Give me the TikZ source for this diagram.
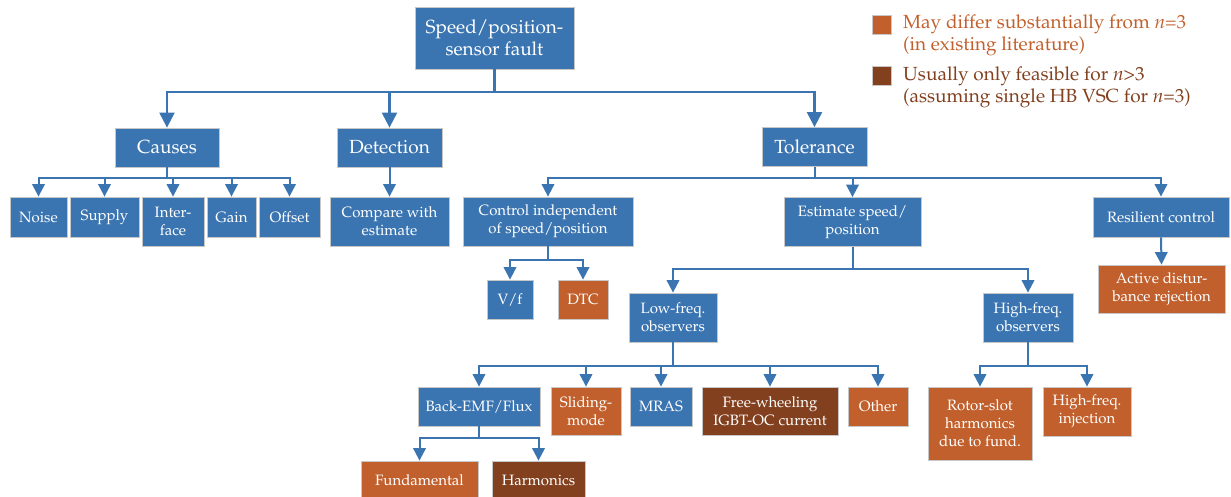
\documentclass[tikz,border=0pt]{standalone}
\usepackage[T1]{fontenc}
\usepackage{mathpazo}
\usetikzlibrary{arrows.meta}
\definecolor{cblue}{HTML}{3B75B1}
\definecolor{corange}{HTML}{C1602D}
\definecolor{cbrown}{HTML}{82401F}
\begin{document}
\begin{tikzpicture}[x=1pt,y=-1pt,
  box/.style={draw=black!22, line width=0.8pt, text=white, align=center, inner sep=0pt, font=\fontsize{15}{18}\selectfont},
  bigbox/.style={box, font=\fontsize{19}{22}\selectfont},
  blu/.style={fill=cblue}, ora/.style={fill=corange}, bro/.style={fill=cbrown},
  link/.style={draw=cblue, line width=2pt, -{Triangle[width=12.5pt,length=12.5pt]}},
  biglink/.style={draw=cblue, line width=2.2pt, -{Triangle[width=15pt,length=15pt]}},
  legtext/.style={anchor=north west, inner sep=0pt, align=left, font=\fontsize{19}{22}\selectfont},
  legbox/.style={draw=black!22, line width=0.8pt, minimum size=19pt, inner sep=0pt}]
\useasboundingbox (0,0) rectangle (1231,497);

% level 0
\node[bigbox,blu,minimum width=159pt,minimum height=62pt] (root) at (494.5,38) {Speed/position-\\sensor fault};
% level 1
\node[bigbox,blu,minimum width=104pt,minimum height=39pt] (causes) at (167,147.5) {Causes};
\node[bigbox,blu,minimum width=105pt,minimum height=39pt] (detect) at (389.5,147.5) {Detection};
\node[bigbox,blu,minimum width=105pt,minimum height=39pt] (toler) at (814.5,147) {Tolerance};
% level 2
\node[box,blu,minimum width=57pt,minimum height=40pt] (noise) at (38.5,217) {Noise};
\node[box,blu,minimum width=69pt,minimum height=40pt] (supply) at (104.5,217) {Supply};
\node[box,blu,minimum width=62pt,minimum height=49pt] (interf) at (173,221.5) {Inter-\\face};
\node[box,blu,minimum width=49pt,minimum height=40pt] (gain) at (231.5,217) {Gain};
\node[box,blu,minimum width=61pt,minimum height=40pt] (offset) at (289.5,217) {Offset};
\node[box,blu,minimum width=119pt,minimum height=49pt] (compare) at (389.5,221.5) {Compare with\\estimate};
\node[box,blu,minimum width=170pt,minimum height=49pt] (control) at (548,221.5) {Control independent\\of speed/position};
\node[box,blu,minimum width=137pt,minimum height=49pt] (estim) at (852.5,222) {Estimate speed/\\position};
\node[box,blu,minimum width=136pt,minimum height=40pt] (resil) at (1161,217) {Resilient control};
% level 3
\node[box,ora,minimum width=127pt,minimum height=48pt] (active) at (1161.5,289) {Active distur-\\bance rejection};
\node[box,blu,minimum width=46pt,minimum height=39pt] (vf) at (510,299.5) {V/f};
\node[box,ora,minimum width=50pt,minimum height=39pt] (dtc) at (583,299.5) {DTC};
\node[box,blu,minimum width=88pt,minimum height=49pt] (lowf) at (673,317.5) {Low-freq.\\observers};
\node[box,blu,minimum width=90pt,minimum height=49pt] (highf) at (1028,317.5) {High-freq.\\observers};
% level 4
\node[box,blu,minimum width=122pt,minimum height=39pt] (bemf) at (479,406.5) {Back-EMF/Flux};
\node[box,ora,minimum width=70pt,minimum height=48pt] (slide) at (586,411) {Sliding-\\mode};
\node[box,blu,minimum width=62pt,minimum height=39pt] (mras) at (661,406.5) {MRAS};
\node[box,bro,minimum width=136pt,minimum height=48pt] (freew) at (770,411) {Free-wheeling\\IGBT-OC current};
\node[box,ora,minimum width=60pt,minimum height=39pt] (other) at (878,406.5) {Other};
\node[box,ora,minimum width=104pt,minimum height=73pt] (rotor) at (980,423.5) {Rotor-slot\\harmonics\\due to fund.};
\node[box,ora,minimum width=88pt,minimum height=49pt] (hfinj) at (1087,411.5) {High-freq.\\injection};
% level 5
\node[box,ora,minimum width=117pt,minimum height=39pt] (fund) at (419.5,480.5) {Fundamental};
\node[box,bro,minimum width=93pt,minimum height=39pt] (harm) at (538.5,480.5) {Harmonics};

% bus coordinates
\coordinate (b0) at (0,92);
\coordinate (b1) at (0,178);
\coordinate (b2) at (0,260);
\coordinate (b3) at (0,269);
\coordinate (b4) at (0,366);
\coordinate (b5) at (0,438);

% connectors
\foreach \c in {causes,detect,toler}
  \draw[biglink] (root.south) |- (\c.north |- b0) -- (\c.north);
\foreach \c in {noise,supply,interf,gain,offset}
  \draw[link] (causes.south) |- (\c.north |- b1) -- (\c.north);
\draw[link] (detect.south) -- (compare.north);
\foreach \c in {control,estim,resil}
  \draw[link] (toler.south) |- (\c.north |- b1) -- (\c.north);
\draw[link] (resil.south) -- (active.north);
\foreach \c in {vf,dtc}
  \draw[link] (control.south) |- (\c.north |- b2) -- (\c.north);
\foreach \c in {lowf,highf}
  \draw[link] (estim.south) |- (\c.north |- b3) -- (\c.north);
\foreach \c in {bemf,slide,mras,freew,other}
  \draw[link] (lowf.south) |- (\c.north |- b4) -- (\c.north);
\foreach \c in {rotor,hfinj}
  \draw[link] (highf.south) |- (\c.north |- b4) -- (\c.north);
\foreach \c in {fund,harm}
  \draw[link] (bemf.south) |- (\c.north |- b5) -- (\c.north);

% legend
\node[legbox,fill=corange] (lg1) at (881.5,24.5) {};
\node[legtext,text=corange] (lt1) at (903,15) {May differ substantially from \textit{n}=3\\(in existing literature)};
\node[legbox,fill=cbrown] (lg2) at (881.5,76) {};
\node[legtext,text=cbrown] (lt2) at (903,67) {Usually only feasible for \textit{n}>3\\(assuming single HB VSC for \textit{n}=3)};
\end{tikzpicture}
\end{document}
